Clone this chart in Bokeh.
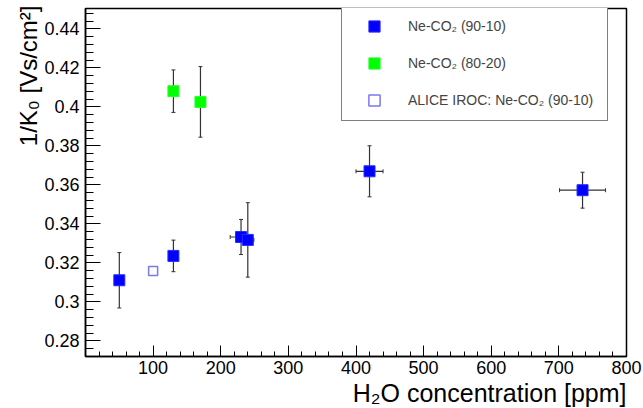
from bokeh.plotting import figure
from bokeh.models import (Range1d, FixedTicker, NumeralTickFormatter, Whisker, TeeHead,
                          ColumnDataSource, Legend, LegendItem, Title)
from bokeh.embed import file_html
from bokeh.resources import INLINE

# ---- data ----
ne9010_x = [50, 130, 230, 240, 420, 735]
ne9010_y = [0.3111, 0.3236, 0.3333, 0.3318, 0.3670, 0.3573]
ne9010_xerr = [0, 0, 16, 9, 20, 34]
ne9010_yerr = [0.0142, 0.0081, 0.0090, 0.0191, 0.0131, 0.0092]

ne8020_x = [130, 170]
ne8020_y = [0.4081, 0.4026]
ne8020_xerr = [0, 0]
ne8020_yerr = [0.0109, 0.0181]

iroc_x = [100]
iroc_y = [0.3159]

x_ticks = [100, 200, 300, 400, 500, 600, 700, 800]
y_ticks = [0.28, 0.30, 0.32, 0.34, 0.36, 0.38, 0.40, 0.42, 0.44]

legend_labels = ["Ne-CO\u2082 (90-10)", "Ne-CO\u2082 (80-20)", "ALICE IROC: Ne-CO\u2082 (90-10)"]
x_title = "H\u2082O concentration [ppm]"
y_title = "1/K\u2080 [Vs/cm\u00b2]"

FONT = "Liberation Sans"
W, H = 643, 408
BL, BR, BT, BB = 85, 17, 8, 52
FW, FH = W - BL - BR, H - BT - BB

p = figure(width=W, height=H, output_backend="svg", toolbar_location=None,
           x_range=Range1d(0, 800), y_range=Range1d(0.272, 0.4505),
           min_border_left=BL, min_border_right=BR, min_border_top=BT, min_border_bottom=BB)
p.grid.visible = False
p.outline_line_color = "black"
p.outline_line_width = 1.5
p.background_fill_color = "white"
p.border_fill_color = "white"


def err_source(xs, ys, xe, ye):
    return ColumnDataSource(dict(
        x=xs, y=ys,
        xl=[a - b for a, b in zip(xs, xe)], xu=[a + b for a, b in zip(xs, xe)],
        yl=[a - b for a, b in zip(ys, ye)], yu=[a + b for a, b in zip(ys, ye)]))


ERRC = "#333333"
for xs, ys, xe, ye in [(ne9010_x, ne9010_y, ne9010_xerr, ne9010_yerr),
                       (ne8020_x, ne8020_y, ne8020_xerr, ne8020_yerr)]:
    s = err_source(xs, ys, xe, ye)
    p.add_layout(Whisker(source=s, base="x", lower="yl", upper="yu", dimension="height",
                         line_color=ERRC, line_width=1.2,
                         lower_head=TeeHead(size=4, line_color=ERRC, line_width=1),
                         upper_head=TeeHead(size=4, line_color=ERRC, line_width=1)))
    p.add_layout(Whisker(source=s, base="y", lower="xl", upper="xu", dimension="width",
                         line_color=ERRC, line_width=1.2,
                         lower_head=TeeHead(size=4, line_color=ERRC, line_width=1),
                         upper_head=TeeHead(size=4, line_color=ERRC, line_width=1)))

r1 = p.scatter(ne9010_x, ne9010_y, marker="square", size=11, fill_color="#0000ff",
               line_color="#2a2aff", line_width=1)
r2 = p.scatter(ne8020_x, ne8020_y, marker="square", size=11, fill_color="#00ff00",
               line_color="#2aff2a", line_width=1)
r3 = p.scatter(iroc_x, iroc_y, marker="square", size=9, fill_color=None,
               line_color="#7a7aee", line_width=1.5)

# axes
xa = p.xaxis[0]
xa.ticker = FixedTicker(ticks=x_ticks, minor_ticks=list(range(20, 800, 20)))
xa.major_tick_in = 11
xa.major_tick_out = 0
xa.minor_tick_in = 5
xa.minor_tick_out = 0
xa.major_label_standoff = 4
ya = p.yaxis[0]
ya.ticker = FixedTicker(ticks=y_ticks, minor_ticks=[0.272 + 0.004 * i for i in range(45)])
ya.formatter = NumeralTickFormatter(format="0.[00]")
ya.major_tick_in = 15
ya.major_tick_out = 0
ya.minor_tick_in = 8
ya.minor_tick_out = 0
ya.major_label_standoff = 6
for ax in (xa, ya):
    ax.axis_line_color = "black"
    ax.axis_line_width = 1.5
    ax.major_tick_line_color = "black"
    ax.minor_tick_line_color = "black"
    ax.major_tick_line_width = 1
    ax.minor_tick_line_width = 1
    ax.major_label_text_font = FONT
    ax.major_label_text_font_size = "18px"
    ax.major_label_text_color = "black"

# axis titles
p.add_layout(Title(text=x_title, align="right", text_font=FONT, text_font_size="25px",
                   text_font_style="normal", text_color="black", standoff=0,
                   offset=0), "below")
p.add_layout(Title(text=y_title, align="right", text_font=FONT, text_font_size="24px",
                   text_font_style="normal", text_color="black", standoff=0,
                   offset=-3), "left")

legend = Legend(items=[LegendItem(label=legend_labels[0], renderers=[r1]),
                       LegendItem(label=legend_labels[1], renderers=[r2]),
                       LegendItem(label=legend_labels[2], renderers=[r3])],
                location=(256, FH - 113), margin=0, padding=6, spacing=9,
                glyph_width=52, glyph_height=28, label_standoff=8, label_width=193,
                label_text_font=FONT, label_text_font_size="14px",
                border_line_color="black", border_line_width=1,
                background_fill_color="white", background_fill_alpha=1)
p.add_layout(legend)

open("out.html", "w").write(file_html(p, INLINE))
